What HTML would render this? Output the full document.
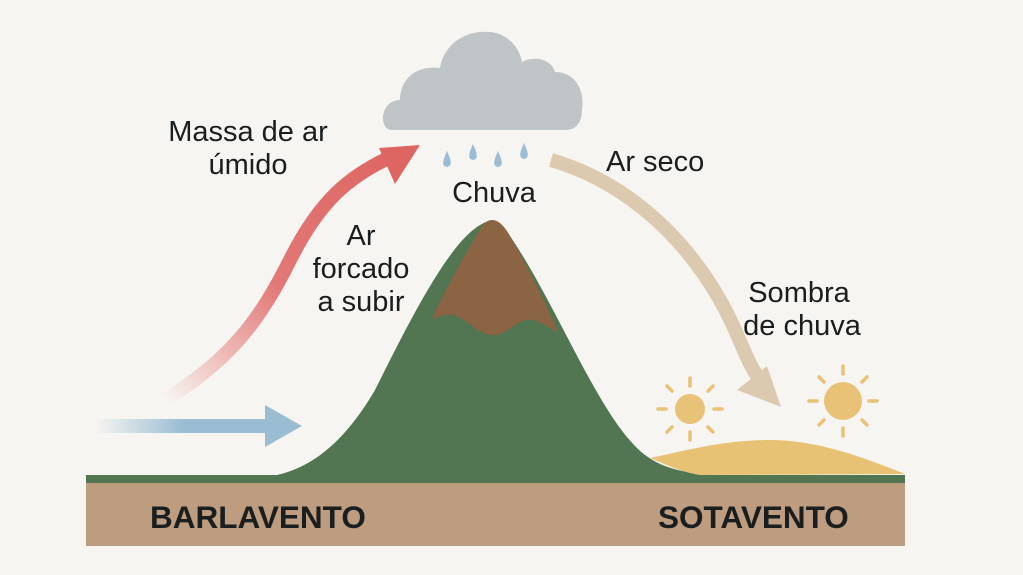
<!DOCTYPE html>
<html><head><meta charset="utf-8"><style>
html,body{margin:0;padding:0;background:#f7f5f1;}
svg{display:block}
text{font-family:"Liberation Sans",sans-serif;fill:#1a1e1e}
</style></head><body>
<svg width="1023" height="575" viewBox="0 0 1023 575" xmlns="http://www.w3.org/2000/svg">
<defs>
<linearGradient id="rg" x1="165" y1="400" x2="420" y2="150" gradientUnits="userSpaceOnUse">
<stop offset="0" stop-color="#e06a68" stop-opacity="0"/><stop offset="0.45" stop-color="#e06a68" stop-opacity="0.9"/><stop offset="1" stop-color="#dd6562"/></linearGradient>
<linearGradient id="bg" x1="95" y1="0" x2="270" y2="0" gradientUnits="userSpaceOnUse">
<stop offset="0" stop-color="#9bbdd4" stop-opacity="0"/><stop offset="0.5" stop-color="#9bbdd4"/><stop offset="1" stop-color="#9bbdd4"/></linearGradient>
</defs>
<rect width="1023" height="575" fill="#f7f5f1"/>
<rect x="86" y="482" width="819" height="64" fill="#bd9c7f"/>
<rect x="86" y="475" width="819" height="8" fill="#527552"/>
<path d="M86 478 L250 478 C300 478 340 450 375 390 C410 320 450 240 482 224 C492 218 500 222 510 236 C560 310 600 420 645 455 C665 470 690 474 720 475 L905 475 L905 480 L86 480Z" fill="#527552"/>
<path d="M432 319 C440 300 460 262 482 226 C490 216 500 218 510 236 C525 262 545 300 558 332 C545 326 535 318 526 320 C512 324 505 337 490 335 C475 333 462 312 447 315 C440 316 436 318 432 319Z" fill="#8a6443"/>
<path d="M650 458 C680 452 720 440 770 440 C820 440 870 460 905 474 L700 475 C680 472 665 464 650 458Z" fill="#e7c275"/>
<path d="M392 130 C378 130 380 100 400 100 C400 80 415 65 440 68 C445 40 470 30 490 32 C510 34 520 50 522 62 C535 55 552 60 555 72 C575 72 585 90 582 110 C582 124 575 130 565 130 Z" fill="#bfc4c6"/>
<g fill="#9bbdd4">
<path d="M447 151 C451 160 453 166 447 167 C441 166 443 160 447 151Z"/>
<path d="M473 144 C477 153 479 159 473 160 C467 159 469 153 473 144Z"/>
<path d="M498 151 C502 160 504 166 498 167 C492 166 494 160 498 151Z"/>
<path d="M524 143 C528 152 530 158 524 159 C518 158 520 152 524 143Z"/>
</g>
<path d="M165 400 C230 360 260 320 290 260 C320 200 350 175 395 155" fill="none" stroke="url(#rg)" stroke-width="14"/>
<polygon points="420,145 379,148 395,184" fill="#dd6562"/>
<rect x="95" y="419" width="180" height="14" fill="url(#bg)"/>
<polygon points="265,405 302,426 265,447" fill="#9bbdd4"/>
<path d="M551 160 C620 180 680 230 720 300 C740 335 745 360 760 380" fill="none" stroke="#dccab0" stroke-width="14"/>
<polygon points="737,390 781,407 767,366" fill="#dccab0"/>
<g stroke="#e8c277" stroke-width="3.5" stroke-linecap="round">
<circle cx="690" cy="409" r="15" fill="#e8c277" stroke="none"/>
<line x1="690" y1="378" x2="690" y2="386"/><line x1="690" y1="432" x2="690" y2="440"/>
<line x1="658" y1="409" x2="666" y2="409"/><line x1="714" y1="409" x2="722" y2="409"/>
<line x1="667" y1="386" x2="672" y2="391"/><line x1="708" y1="427" x2="713" y2="432"/>
<line x1="713" y1="386" x2="708" y2="391"/><line x1="672" y1="427" x2="667" y2="432"/>
<circle cx="843" cy="401" r="19" fill="#e8c277" stroke="none"/>
<line x1="843" y1="366" x2="843" y2="374"/><line x1="843" y1="428" x2="843" y2="436"/>
<line x1="809" y1="401" x2="817" y2="401"/><line x1="869" y1="401" x2="877" y2="401"/>
<line x1="819" y1="377" x2="824" y2="382"/><line x1="862" y1="420" x2="867" y2="425"/>
<line x1="867" y1="377" x2="862" y2="382"/><line x1="824" y1="420" x2="819" y2="425"/>
</g>
<g font-size="29">
<text x="248" y="141" text-anchor="middle">Massa de ar</text>
<text x="248" y="174" text-anchor="middle">úmido</text>
<text x="494" y="202" text-anchor="middle">Chuva</text>
<text x="361" y="245" text-anchor="middle">Ar</text>
<text x="361" y="278" text-anchor="middle">forcado</text>
<text x="361" y="311" text-anchor="middle">a subir</text>
<text x="606" y="171">Ar seco</text>
<text x="799" y="302" text-anchor="middle">Sombra</text>
<text x="802" y="335" text-anchor="middle">de chuva</text>
</g>
<text x="150" y="528" font-size="31.5" font-weight="bold">BARLAVENTO</text>
<text x="658" y="528" font-size="31.5" font-weight="bold">SOTAVENTO</text>
</svg>
</body></html>
